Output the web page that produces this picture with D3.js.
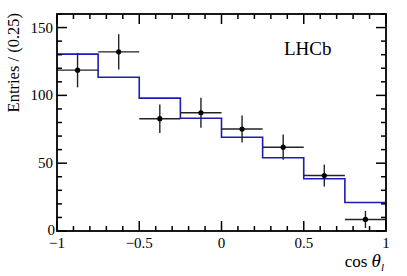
<!DOCTYPE html>
<html><head><meta charset="utf-8">
<script src="https://cdn.jsdelivr.net/npm/d3@7"></script>
<style>body{margin:0;background:#fff;} svg{display:block;} text{font-family:"Liberation Serif","Times New Roman",serif;}</style>
</head><body><div id="chart"></div>
<script>
const binEdges = [-1, -0.75, -0.5, -0.25, 0, 0.25, 0.5, 0.75, 1];
const fitValues = [130.4, 113.4, 98.0, 83.1, 69.1, 54.0, 38.5, 21.0];
const dataCenters = [-0.875, -0.625, -0.375, -0.125, 0.125, 0.375, 0.625, 0.875];
const dataValues = [118.6, 132.1, 82.8, 87.2, 75.2, 61.8, 40.9, 8.5];
const dataErrors = [12.7, 13.0, 10.5, 11.0, 10.0, 9.3, 8.1, 6.3];
const xTicks = [-1, -0.5, 0, 0.5, 1];
const xTickLabels = ["\u22121", "\u22120.5", "0", "0.5", "1"];
const yTicks = [0, 50, 100, 150];

const W = 407, H = 276;
const m = {l: 57, r: 21, t: 14, b: 45};
const svg = d3.select("#chart").append("svg").attr("width", W).attr("height", H);
const x = d3.scaleLinear().domain([-1, 1]).range([m.l, W - m.r]);
const y = d3.scaleLinear().domain([0, 160]).range([H - m.b, m.t]);

// histogram step (fit)
const stepData = fitValues.map((v, i) => ({x: binEdges[i], v})).concat([{x: 1, v: fitValues[fitValues.length - 1]}]);
const line = d3.line().x(d => x(d.x)).y(d => y(d.v)).curve(d3.curveStepAfter);
svg.append("path").datum(stepData).attr("d", line).attr("fill", "none")
  .attr("stroke", "#1c1cb4").attr("stroke-width", 1.6);

// data points
const g = svg.append("g");
dataCenters.forEach((c, i) => {
  const v = dataValues[i], e = dataErrors[i];
  g.append("line").attr("x1", x(c - 0.125)).attr("x2", x(c + 0.125)).attr("y1", y(v)).attr("y2", y(v))
    .attr("stroke", "#222").attr("stroke-width", 1.4);
  g.append("line").attr("x1", x(c)).attr("x2", x(c)).attr("y1", y(Math.max(0, v - e))).attr("y2", y(v + e))
    .attr("stroke", "#222").attr("stroke-width", 1.4);
  g.append("circle").attr("cx", x(c)).attr("cy", y(v)).attr("r", 2.6).attr("fill", "#000");
});

// frame and ticks on all sides
const axG = svg.append("g");
const xMinor = d3.range(-10, 11).map(k => k / 10);
const yMinor = d3.range(0, 161, 10);
axG.append("rect").attr("x", x(-1)).attr("y", y(160)).attr("width", x(1) - x(-1)).attr("height", y(0) - y(160))
  .attr("fill", "none").attr("stroke", "#000").attr("stroke-width", 1.8);
xMinor.forEach(t => {
  const major = xTicks.some(v => Math.abs(v - t) < 1e-9);
  const len = major ? 10 : 5;
  axG.append("line").attr("x1", x(t)).attr("x2", x(t)).attr("y1", y(0)).attr("y2", y(0) - len).attr("stroke", "#000").attr("stroke-width", 1.5);
  axG.append("line").attr("x1", x(t)).attr("x2", x(t)).attr("y1", y(160)).attr("y2", y(160) + len).attr("stroke", "#000").attr("stroke-width", 1.5);
});
yMinor.forEach(t => {
  const major = yTicks.includes(t);
  const len = major ? 10 : 5;
  axG.append("line").attr("x1", x(-1)).attr("x2", x(-1) + len).attr("y1", y(t)).attr("y2", y(t)).attr("stroke", "#000").attr("stroke-width", 1.5);
  axG.append("line").attr("x1", x(1)).attr("x2", x(1) - len).attr("y1", y(t)).attr("y2", y(t)).attr("stroke", "#000").attr("stroke-width", 1.5);
});
// tick labels
xTicks.forEach((t, i) => {
  axG.append("text").attr("x", x(t)).attr("y", y(0) + 16.5).attr("text-anchor", "middle")
    .attr("font-size", 15).text(xTickLabels[i]);
});
yTicks.forEach(t => {
  axG.append("text").attr("x", x(-1) - (t === 0 ? 2 : 4)).attr("y", y(t) + (t === 0 ? 4 : 5)).attr("text-anchor", "end")
    .attr("font-size", 15).text(t);
});
// axis titles
svg.append("text").attr("transform", `translate(19,${m.t - 1}) rotate(-90)`).attr("text-anchor", "end")
  .attr("font-size", 16.5).text("Entries / (0.25)");
const xl = svg.append("text").attr("x", x(1) - 2).attr("y", 267).attr("text-anchor", "end").attr("font-size", 17);
xl.append("tspan").text("cos ");
xl.append("tspan").attr("font-style", "italic").attr("font-size", 19).text("\u03b8");
xl.append("tspan").attr("font-style", "italic").attr("font-size", 11).attr("dy", 4).text("l");
// LHCb
svg.append("text").attr("x", 284).attr("y", 55).attr("font-size", 19).text("LHCb");
</script></body></html>
